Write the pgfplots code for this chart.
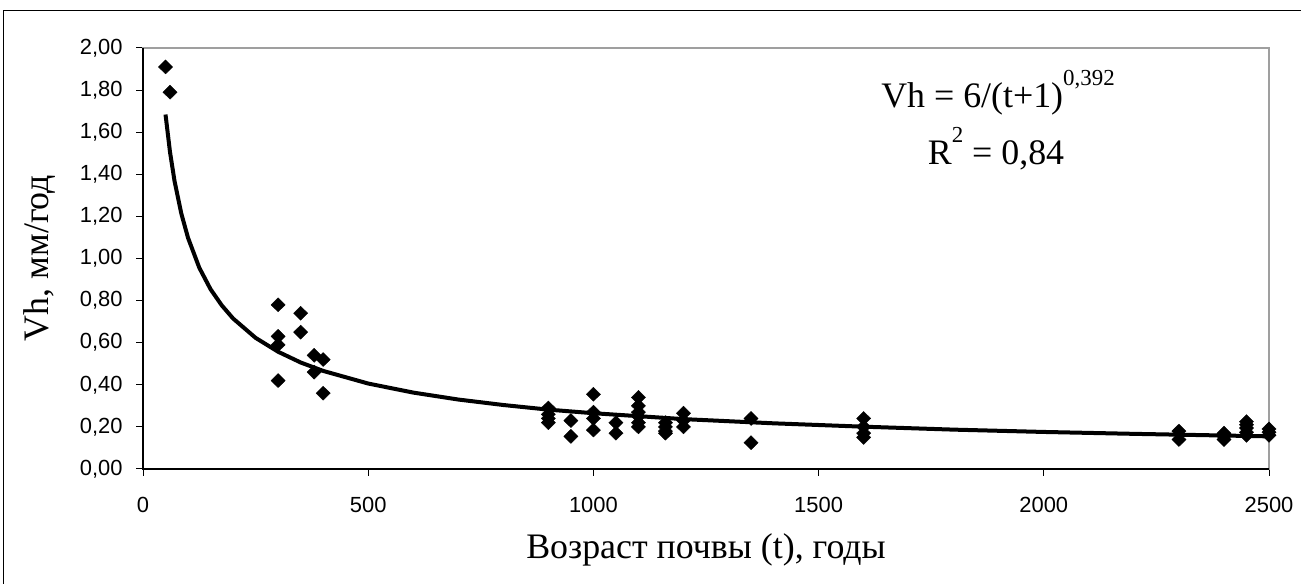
\documentclass[border=0pt]{standalone}
\usepackage{fontspec}
\setmainfont{Liberation Serif}
\newfontfamily\arial{Liberation Sans}
\usepackage{pgfplots}
\pgfplotsset{compat=1.18}
\pgfkeys{/pgf/number format/assume math mode=true}
\begin{document}
\begin{tikzpicture}
\useasboundingbox (0bp,0bp) rectangle (1301bp,584bp);
\draw[line width=1.5bp] (3.5bp,0bp) -- (3.5bp,573.5bp) -- (1301bp,573.5bp);
\begin{axis}[
  at={(143bp,115bp)}, anchor=south west,
  scale only axis, width=1126bp, height=421bp,
  xmin=0, xmax=2500, ymin=0, ymax=2,
  xtick={0,500,...,2500}, ytick={0,0.2,...,2.01},
  tick align=outside, tick pos=left,
  major tick length=7bp,
  tick style={black, line width=1bp},
  axis line style={draw=gray!75, line width=1.5bp},
  clip=false,
  xticklabel={\arial\fontsize{22}{22}\selectfont\pgfmathprintnumber[fixed,1000 sep={}]{\tick}},
  yticklabel={\arial\fontsize{22}{22}\selectfont\pgfmathprintnumber[fixed,fixed zerofill,precision=2,use comma]{\tick}},
  x tick label style={yshift=-18bp},
  y tick label style={xshift=-10bp},
]
\addplot[only marks, mark=diamond*, mark size=7bp, mark options={xscale=1.35}, black] coordinates {
(50,1.91) (60,1.79)
(300,0.78) (300,0.63) (300,0.59) (300,0.42)
(350,0.74) (350,0.65)
(380,0.54) (380,0.46)
(400,0.52) (400,0.36)
(900,0.29) (900,0.26) (900,0.24) (900,0.22)
(950,0.23) (950,0.155)
(1000,0.355) (1000,0.27) (1000,0.24) (1000,0.185)
(1050,0.22) (1050,0.17)
(1100,0.34) (1100,0.30) (1100,0.27) (1100,0.25) (1100,0.22) (1100,0.20)
(1160,0.22) (1160,0.20) (1160,0.18) (1160,0.17)
(1200,0.265) (1200,0.23) (1200,0.20)
(1350,0.24) (1350,0.125)
(1600,0.24) (1600,0.20) (1600,0.17) (1600,0.15)
(2300,0.18) (2300,0.14)
(2400,0.17) (2400,0.155) (2400,0.14)
(2450,0.225) (2450,0.21) (2450,0.195) (2450,0.175) (2450,0.16)
(2500,0.19) (2500,0.175) (2500,0.16)
};
\addplot[black, line width=4bp, line join=round] coordinates {
(50,1.684) (60,1.505) (70,1.368) (85,1.214) (100,1.098) (125,0.956)
(150,0.854) (175,0.777) (200,0.715) (250,0.623) (300,0.557) (350,0.506)
(400,0.466) (500,0.406) (600,0.363) (700,0.330) (800,0.304) (900,0.282)
(1000,0.265) (1200,0.237) (1400,0.217) (1600,0.201) (1800,0.187)
(2000,0.176) (2200,0.167) (2500,0.155)
};
\draw[black, line width=1.5bp] (rel axis cs:0,1) -- (rel axis cs:0,0) -- (rel axis cs:1,0);
\end{axis}
\node[anchor=base, font=\fontsize{36}{36}\selectfont] at (998bp,476bp)
  {Vh = 6/(t+1)\raisebox{0.62em}{\fontsize{23}{23}\selectfont 0,392}};
\node[anchor=base, font=\fontsize{36}{36}\selectfont] at (996bp,419bp)
  {R\raisebox{0.62em}{\fontsize{23}{23}\selectfont 2} = 0,84};
\node[anchor=base, font=\fontsize{36}{36}\selectfont] at (706bp,26bp) {Возраст почвы (t), годы};
\node[rotate=90, font=\fontsize{36}{36}\selectfont] at (40bp,326bp) {Vh, мм/год};
\end{tikzpicture}
\end{document}
